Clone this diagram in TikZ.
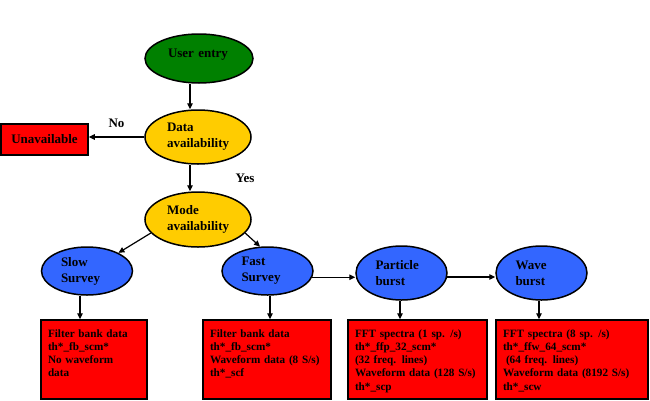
\documentclass[tikz,border=0pt]{standalone}
\usepackage{fontspec}
\setmainfont{Liberation Serif}
\usetikzlibrary{shapes.geometric,arrows.meta}

\definecolor{entrygreen}{RGB}{0,128,0}
\definecolor{availgold}{RGB}{255,204,0}
\definecolor{modeblue}{RGB}{51,102,255}
\definecolor{datared}{RGB}{255,0,0}

\begin{document}
\begin{tikzpicture}[x=1pt,y=-1pt,
    oval/.style={ellipse,draw=black,line width=1.5pt,inner sep=0pt,
      font=\fontsize{13}{16}\selectfont\bfseries,align=left},
    topoval/.style={oval,text width=62pt,minimum width=106pt,minimum height=54pt},
    modeoval/.style={oval,fill=modeblue,text width=52pt,minimum width=91pt,minimum height=48pt},
    databox/.style={rectangle,draw=black,fill=datared,line width=1.5pt,
      inner xsep=7pt,inner ysep=0pt,align=left,
      font=\fontsize{11.2}{13.3}\selectfont\bfseries,
      text height=17pt,text depth=62pt},
    tag/.style={font=\fontsize{13}{16}\selectfont\bfseries,inner sep=0pt},
    arr/.style={-{Triangle[length=6pt,width=5.5pt]},line width=1.2pt}]
  \useasboundingbox (0,0) rectangle (650,400);

  % decision chain
  \node[topoval,fill=entrygreen,minimum width=108pt,minimum height=49pt,
    text height=9pt,text depth=11pt] (ue) at (199,58.5) {User entry};
  \node[topoval,fill=availgold] (da) at (198,137) {Data\\availability};
  \node[rectangle,draw=black,fill=datared,line width=1.5pt,minimum width=87pt,minimum height=31pt,
    font=\fontsize{13}{16}\selectfont\bfseries] (un) at (44.5,139.5) {Unavailable};
  \node[topoval,fill=availgold,minimum height=55pt] (ma) at (198,219.5) {Mode\\availability};

  % modes
  \node[modeoval] (slow) at (87,271) {Slow\\Survey};
  \node[modeoval] (fast) at (267.5,271) {Fast\\Survey};
  \node[modeoval,minimum height=54pt] (part) at (401.5,273) {Particle\\burst};
  \node[modeoval,minimum height=54pt] (wave) at (541.5,273) {Wave\\burst};

  % products
  \node[databox,text width=92pt] (sbox) at (94,359.5)
    {Filter bank data\\th*\_fb\_scm*\\No waveform\\data};
  \node[databox,text width=114pt] (fbox) at (267,359.5)
    {Filter bank data\\th*\_fb\_scm*\\Waveform data (8 S/s)\\th*\_scf};
  \node[databox,text width=125pt] (pbox) at (417.5,359.5)
    {FFT spectra (1 sp. /s)\\th*\_ffp\_32\_scm*\\(32 freq. lines)\\Waveform data (128 S/s)\\th*\_scp};
  \node[databox,text width=138pt] (wbox) at (572,359.5)
    {FFT spectra (8 sp. /s)\\th*\_ffw\_64\_scm*\\\hspace*{3pt}(64 freq. lines)\\Waveform data (8192 S/s)\\th*\_scw};

  \draw[arr] ([xshift=-9pt]ue.south) -- ([xshift=-8pt]da.north);
  \draw[arr] (da.west) -- node[tag,above=9pt] (no) {No} (da.west -| un.east);
  \draw[arr] ([xshift=-8pt]da.south) -- node[tag,right=45pt] (yes) {Yes} ([xshift=-8pt]ma.north);
  \draw[arr] (ma.196) -- (slow.30);
  \draw[arr] (ma.-16) -- (fast.107);
  \draw[arr] (fast.-8) -- (fast.-8 -| part.west);
  \draw[arr] (part.-5) -- (part.-5 -| wave.west);

  \draw[arr] ([xshift=-7pt]slow.south) -- ([xshift=-7pt]slow.south |- sbox.north);
  \draw[arr] ([xshift=2.5pt]fast.south) -- ([xshift=2.5pt]fast.south |- fbox.north);
  \draw[arr] ([xshift=-1.5pt]part.south) -- ([xshift=-1.5pt]part.south |- pbox.north);
  \draw[arr] ([xshift=-2.5pt]wave.south) -- ([xshift=-2.5pt]wave.south |- wbox.north);
\end{tikzpicture}
\end{document}
